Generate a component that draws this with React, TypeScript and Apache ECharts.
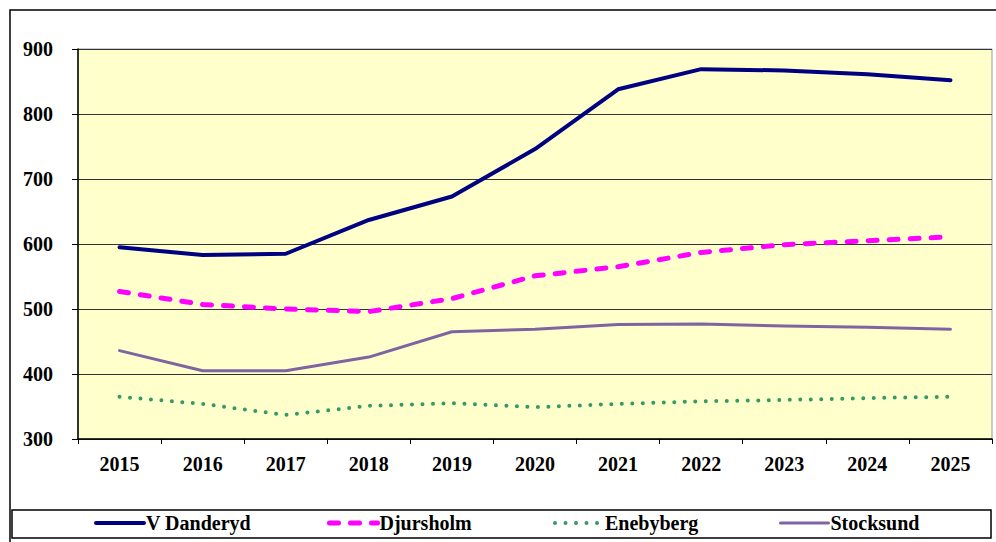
import React, { useEffect, useRef } from "react";
import * as echarts from "echarts";

const years = ["2015", "2016", "2017", "2018", "2019", "2020", "2021", "2022", "2023", "2024", "2025"];
const vDanderyd = [595, 583, 585, 637, 673, 746, 838, 869, 867, 861, 852];
const djursholm = [527, 507, 500, 496, 516, 551, 565, 587, 599, 605, 611];
const enebyberg = [365, 354, 337, 351, 355, 349, 354, 358, 360, 363, 365];
const stocksund = [436, 405, 405, 426, 465, 469, 476, 477, 474, 472, 469];
const yTicks = { min: 300, max: 900, interval: 100 };

const FONT = "'Liberation Serif', 'Times New Roman', serif";

const styles = {
  "V Danderyd": { color: "#000080", width: 4, type: "solid" as any, cap: "round" },
  Djursholm: { color: "#FF00FF", width: 5, type: [9, 12] as any, cap: "round" },
  Enebyberg: { color: "#339966", width: 4, type: [0, 10.5] as any, cap: "round" },
  Stocksund: { color: "#8064A2", width: 3, type: "solid" as any, cap: "round" },
};

export default function App() {
  const ref = useRef<HTMLDivElement>(null);
  useEffect(() => {
    if (!ref.current) return;
    const chart = echarts.init(ref.current, undefined, { renderer: "svg" });
    const legendFor = (name: string, left: number) => ({
      orient: "horizontal",
      top: 508,
      left,
      data: [name],
      itemWidth: 48,
      itemHeight: 20,
      itemGap: 0,
      itemStyle: { color: "transparent", borderWidth: 0, opacity: 0 },
      lineStyle: { ...(styles as any)[name] },
      textStyle: { fontFamily: FONT, fontWeight: "bold", fontSize: 20, color: "#000", padding: [0, 0, 0, -3] },
    });
    const seriesFor = (name: string, data: number[]) => ({
      name,
      type: "line",
      data,
      symbol: "none",
      lineStyle: { ...(styles as any)[name], join: "round" },
      itemStyle: { color: (styles as any)[name].color },
    });
    chart.setOption({
      animation: false,
      backgroundColor: "#fff",
      textStyle: { fontFamily: FONT },
      grid: {
        left: 78,
        right: 4,
        top: 49,
        bottom: 103,
        show: true,
        backgroundColor: "#FFFFCC",
        borderColor: "#999",
        borderWidth: 1,
      },
      xAxis: {
        type: "category",
        data: years,
        boundaryGap: true,
        axisLine: { lineStyle: { color: "#000", width: 1.5 } },
        axisTick: { show: true, interval: 0, length: 5, lineStyle: { color: "#000" } },
        axisLabel: { fontFamily: FONT, fontWeight: "bold", fontSize: 20, color: "#000", margin: 15 },
      },
      yAxis: {
        type: "value",
        min: yTicks.min,
        max: yTicks.max,
        interval: yTicks.interval,
        axisLine: { show: true, lineStyle: { color: "#000", width: 1.5 } },
        axisTick: { show: true, length: 6, lineStyle: { color: "#000" } },
        axisLabel: { fontFamily: FONT, fontWeight: "bold", fontSize: 20, color: "#000", margin: 25 },
        splitLine: { show: true, lineStyle: { color: "#333", width: 1 } },
      },
      legend: [
        legendFor("V Danderyd", 89),
        legendFor("Djursholm", 322),
        legendFor("Enebyberg", 548),
        legendFor("Stocksund", 774),
      ],
      graphic: [
        {
          type: "rect",
          shape: { x: 10, y: 10, width: 1000, height: 600 },
          style: { fill: "none", stroke: "#000", lineWidth: 1.5 },
          silent: true,
          z: -1,
        },
        {
          type: "rect",
          shape: { x: 12, y: 510, width: 979, height: 28 },
          style: { fill: "none", stroke: "#000", lineWidth: 1.5 },
          silent: true,
        },
      ],
      series: [
        seriesFor("V Danderyd", vDanderyd),
        seriesFor("Djursholm", djursholm),
        seriesFor("Enebyberg", enebyberg),
        seriesFor("Stocksund", stocksund),
      ],
    });
    return () => chart.dispose();
  }, []);
  return (
    <div
      ref={ref}
      style={{ position: "absolute", left: 0, top: 0, width: 996, height: 542 }}
    />
  );
}
